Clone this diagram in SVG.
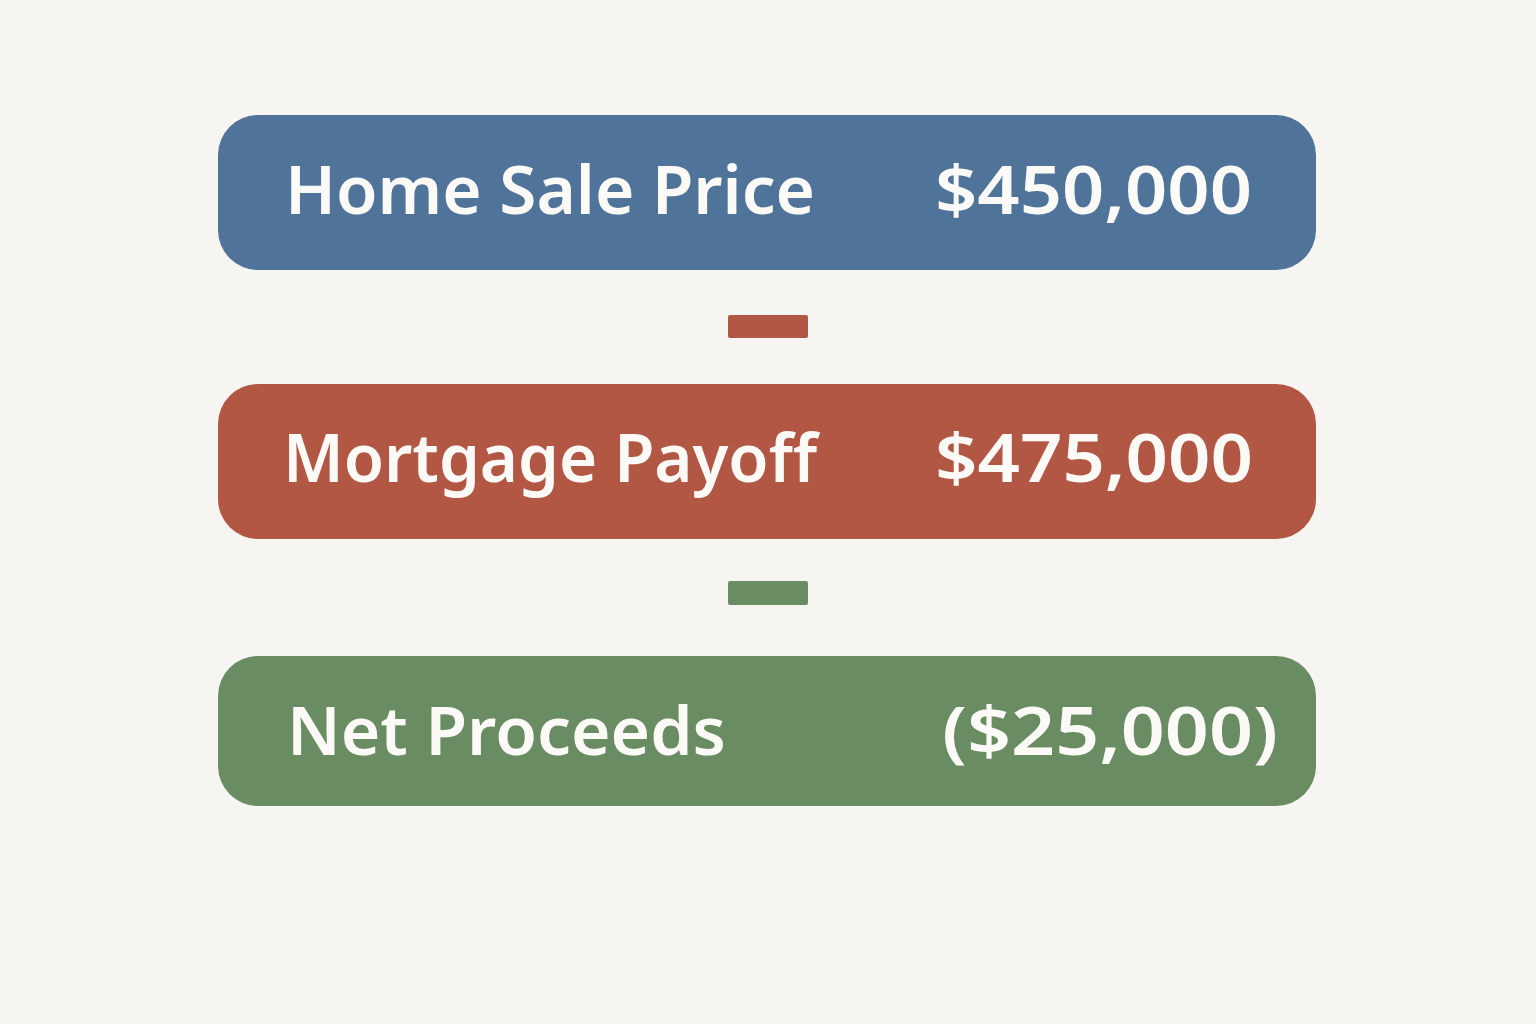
<svg xmlns="http://www.w3.org/2000/svg" width="1536" height="1024" viewBox="0 0 1536 1024">
<style>
.lbl{font-family:"Noto Sans","Open Sans",sans-serif;font-size:67px;font-weight:600;fill:#fbfaf7}
.val{font-family:"Noto Sans","Open Sans",sans-serif;font-size:67px;font-weight:600;fill:#fbfaf7}
</style>
<rect width="1536" height="1024" fill="#f6f5f2"/>
<g id="home-sale-price">
<rect x="218" y="115" width="1098" height="155" rx="40" fill="#4f7399"/>
<text class="lbl" x="285" y="214" textLength="530" lengthAdjust="spacingAndGlyphs">Home Sale Price</text>
<text class="val" x="935" y="214" textLength="317" lengthAdjust="spacingAndGlyphs">$450,000</text>
</g>
<g id="mortgage-payoff">
<rect x="218" y="384" width="1098" height="155" rx="40" fill="#b25743"/>
<text class="lbl" x="283" y="482" textLength="534" lengthAdjust="spacingAndGlyphs">Mortgage Payoff</text>
<text class="val" x="935" y="482" textLength="318" lengthAdjust="spacingAndGlyphs">$475,000</text>
</g>
<g id="net-proceeds">
<rect x="218" y="656" width="1098" height="150" rx="40" fill="#6a8c62"/>
<text class="lbl" x="287" y="755" textLength="439" lengthAdjust="spacingAndGlyphs">Net Proceeds</text>
<text class="val" x="942" y="755" textLength="336" lengthAdjust="spacingAndGlyphs">($25,000)</text>
</g>
<g id="connectors">
<rect x="728" y="315" width="80" height="23" rx="2" fill="#b25743"/>
<rect x="728" y="581" width="80" height="24" rx="2" fill="#6a8c62"/>
</g>
</svg>
